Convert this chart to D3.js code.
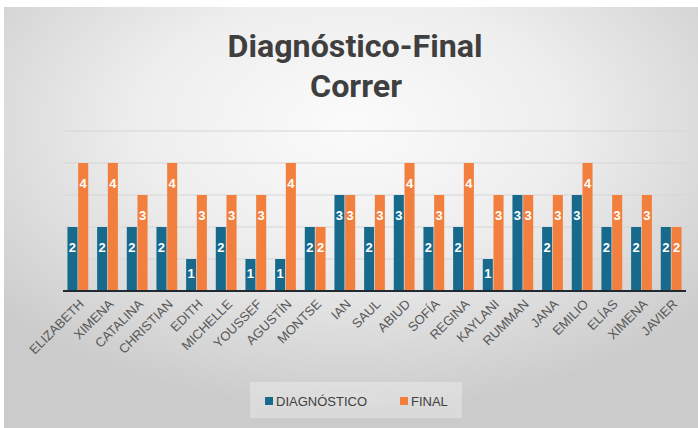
<!DOCTYPE html>
<html>
<head>
<meta charset="utf-8">
<script src="https://cdn.jsdelivr.net/npm/d3@7"></script>
<style>
  body { margin: 0; background: #fff; }
  svg { display: block; }
</style>
</head>
<body>
<svg id="chart" width="698" height="428"></svg>
<script>
// data
var names = ["ELIZABETH", "XIMENA", "CATALINA", "CHRISTIAN", "EDITH", "MICHELLE", "YOUSSEF", "AGUSTÍN", "MONTSE", "IAN",
  "SAUL", "ABIUD", "SOFÍA", "REGINA", "KAYLANI", "RUMMAN", "JANA", "EMILIO", "ELÍAS", "XIMENA", "JAVIER"];
var diagnostico = [2, 2, 2, 2, 1, 2, 1, 1, 2, 3, 2, 3, 2, 2, 1, 3, 2, 3, 2, 2, 2];
var final = [4, 4, 3, 4, 3, 3, 3, 4, 2, 3, 3, 4, 3, 4, 3, 3, 3, 4, 3, 3, 2];
var seriesNames = ["DIAGNÓSTICO", "FINAL"];
var yTicks = [1, 2, 3, 4, 5];

var colors = ["#176a8c", "#f27f3d"];
var width = 698, height = 428;

var svg = d3.select("#chart");

// background gradient
var defs = svg.append("defs");
var grad = defs.append("radialGradient")
    .attr("id", "bg")
    .attr("cx", "50%").attr("cy", "28%").attr("r", "68%");
grad.append("stop").attr("offset", "0%").attr("stop-color", "#fbfbfb");
grad.append("stop").attr("offset", "45%").attr("stop-color", "#eeeeee");
grad.append("stop").attr("offset", "100%").attr("stop-color", "#cbcbcb");

svg.append("rect").attr("width", width).attr("height", height).attr("fill", "#fff");
svg.append("rect")
    .attr("x", 4).attr("y", 7)
    .attr("width", width - 4).attr("height", height - 7)
    .attr("fill", "url(#bg)");

// title
var title = svg.append("g")
    .attr("fill", "#3f3f3f")
    .attr("font-family", "'Liberation Sans Narrow', 'Roboto', 'DejaVu Sans', sans-serif")
    .attr("font-weight", "bold")
    .attr("font-size", 32)
    .attr("text-anchor", "middle");
title.append("text").attr("x", 355).attr("y", 57)
    .attr("textLength", 255).attr("lengthAdjust", "spacingAndGlyphs")
    .text("Diagnóstico-Final");
title.append("text").attr("x", 356).attr("y", 97)
    .attr("textLength", 92).attr("lengthAdjust", "spacingAndGlyphs")
    .text("Correr");

// scales
var x0 = d3.scaleBand()
    .domain(d3.range(names.length))
    .range([63, 686])
    .paddingInner(0.3)
    .paddingOuter(0.15);

var x1 = d3.scaleBand()
    .domain([0, 1])
    .range([0, x0.bandwidth()])
    .paddingInner(0.06);

var y = d3.scaleLinear()
    .domain([0, 5])
    .range([291, 131]);

// gridlines
svg.append("g")
    .selectAll("line")
    .data(yTicks)
    .enter()
    .append("line")
    .attr("x1", 63).attr("x2", 686)
    .attr("y1", function (d) { return y(d); })
    .attr("y2", function (d) { return y(d); })
    .attr("stroke", "#d6d6d6")
    .attr("stroke-width", 1.2);

// bars
var rows = names.map(function (n, i) {
    return { i: i, vals: [diagnostico[i], final[i]] };
});

var groups = svg.append("g")
    .selectAll("g")
    .data(rows)
    .enter()
    .append("g")
    .attr("transform", function (d) { return "translate(" + x0(d.i) + ",0)"; });

groups.selectAll("rect")
    .data(function (d) { return d.vals.map(function (v, k) { return { k: k, v: v }; }); })
    .enter()
    .append("rect")
    .attr("x", function (d) { return x1(d.k); })
    .attr("y", function (d) { return y(d.v); })
    .attr("width", x1.bandwidth())
    .attr("height", function (d) { return y(0) - y(d.v); })
    .attr("fill", function (d) { return colors[d.k]; });

// data labels
groups.selectAll("text")
    .data(function (d) { return d.vals.map(function (v, k) { return { k: k, v: v }; }); })
    .enter()
    .append("text")
    .attr("x", function (d) { return x1(d.k) + x1.bandwidth() / 2; })
    .attr("y", function (d) {
        var top = y(d.v);
        return Math.min(top + 20, (top + y(0)) / 2 - 2);
    })
    .attr("dy", "0.36em")
    .attr("text-anchor", "middle")
    .attr("fill", "#ffffff")
    .attr("font-family", "'Liberation Sans', Arial, sans-serif")
    .attr("font-weight", "bold")
    .attr("font-size", 13)
    .text(function (d) { return d.v; });

// baseline
svg.append("line")
    .attr("x1", 63).attr("x2", 686)
    .attr("y1", y(0)).attr("y2", y(0))
    .attr("stroke", "#1f2a33")
    .attr("stroke-width", 2);

// category labels
svg.append("g")
    .selectAll("text")
    .data(names)
    .enter()
    .append("text")
    .attr("transform", function (d, i) {
        var cx = x0(i) + x0.bandwidth() / 2;
        return "translate(" + cx + ",298) rotate(-45)";
    })
    .attr("dy", "0.75em")
    .attr("text-anchor", "end")
    .attr("fill", "#595959")
    .attr("font-family", "'Liberation Sans', Arial, sans-serif")
    .attr("font-size", 13)
    .text(function (d) { return d; });

// legend
var legend = svg.append("g");
legend.append("rect")
    .attr("x", 250).attr("y", 382)
    .attr("width", 212).attr("height", 36)
    .attr("fill", "#ffffff").attr("fill-opacity", 0.3);

var legendX = [265, 400];
var items = legend.selectAll("g.item")
    .data(seriesNames)
    .enter()
    .append("g")
    .attr("class", "item")
    .attr("transform", function (d, i) { return "translate(" + legendX[i] + ",0)"; });
items.append("rect")
    .attr("x", 0).attr("y", 397)
    .attr("width", 8).attr("height", 8)
    .attr("fill", function (d, i) { return colors[i]; });
items.append("text")
    .attr("x", 11).attr("y", 406)
    .attr("fill", "#404040")
    .attr("font-family", "'Liberation Sans', Arial, sans-serif")
    .attr("font-size", 13)
    .text(function (d) { return d; });
</script>
</body>
</html>
